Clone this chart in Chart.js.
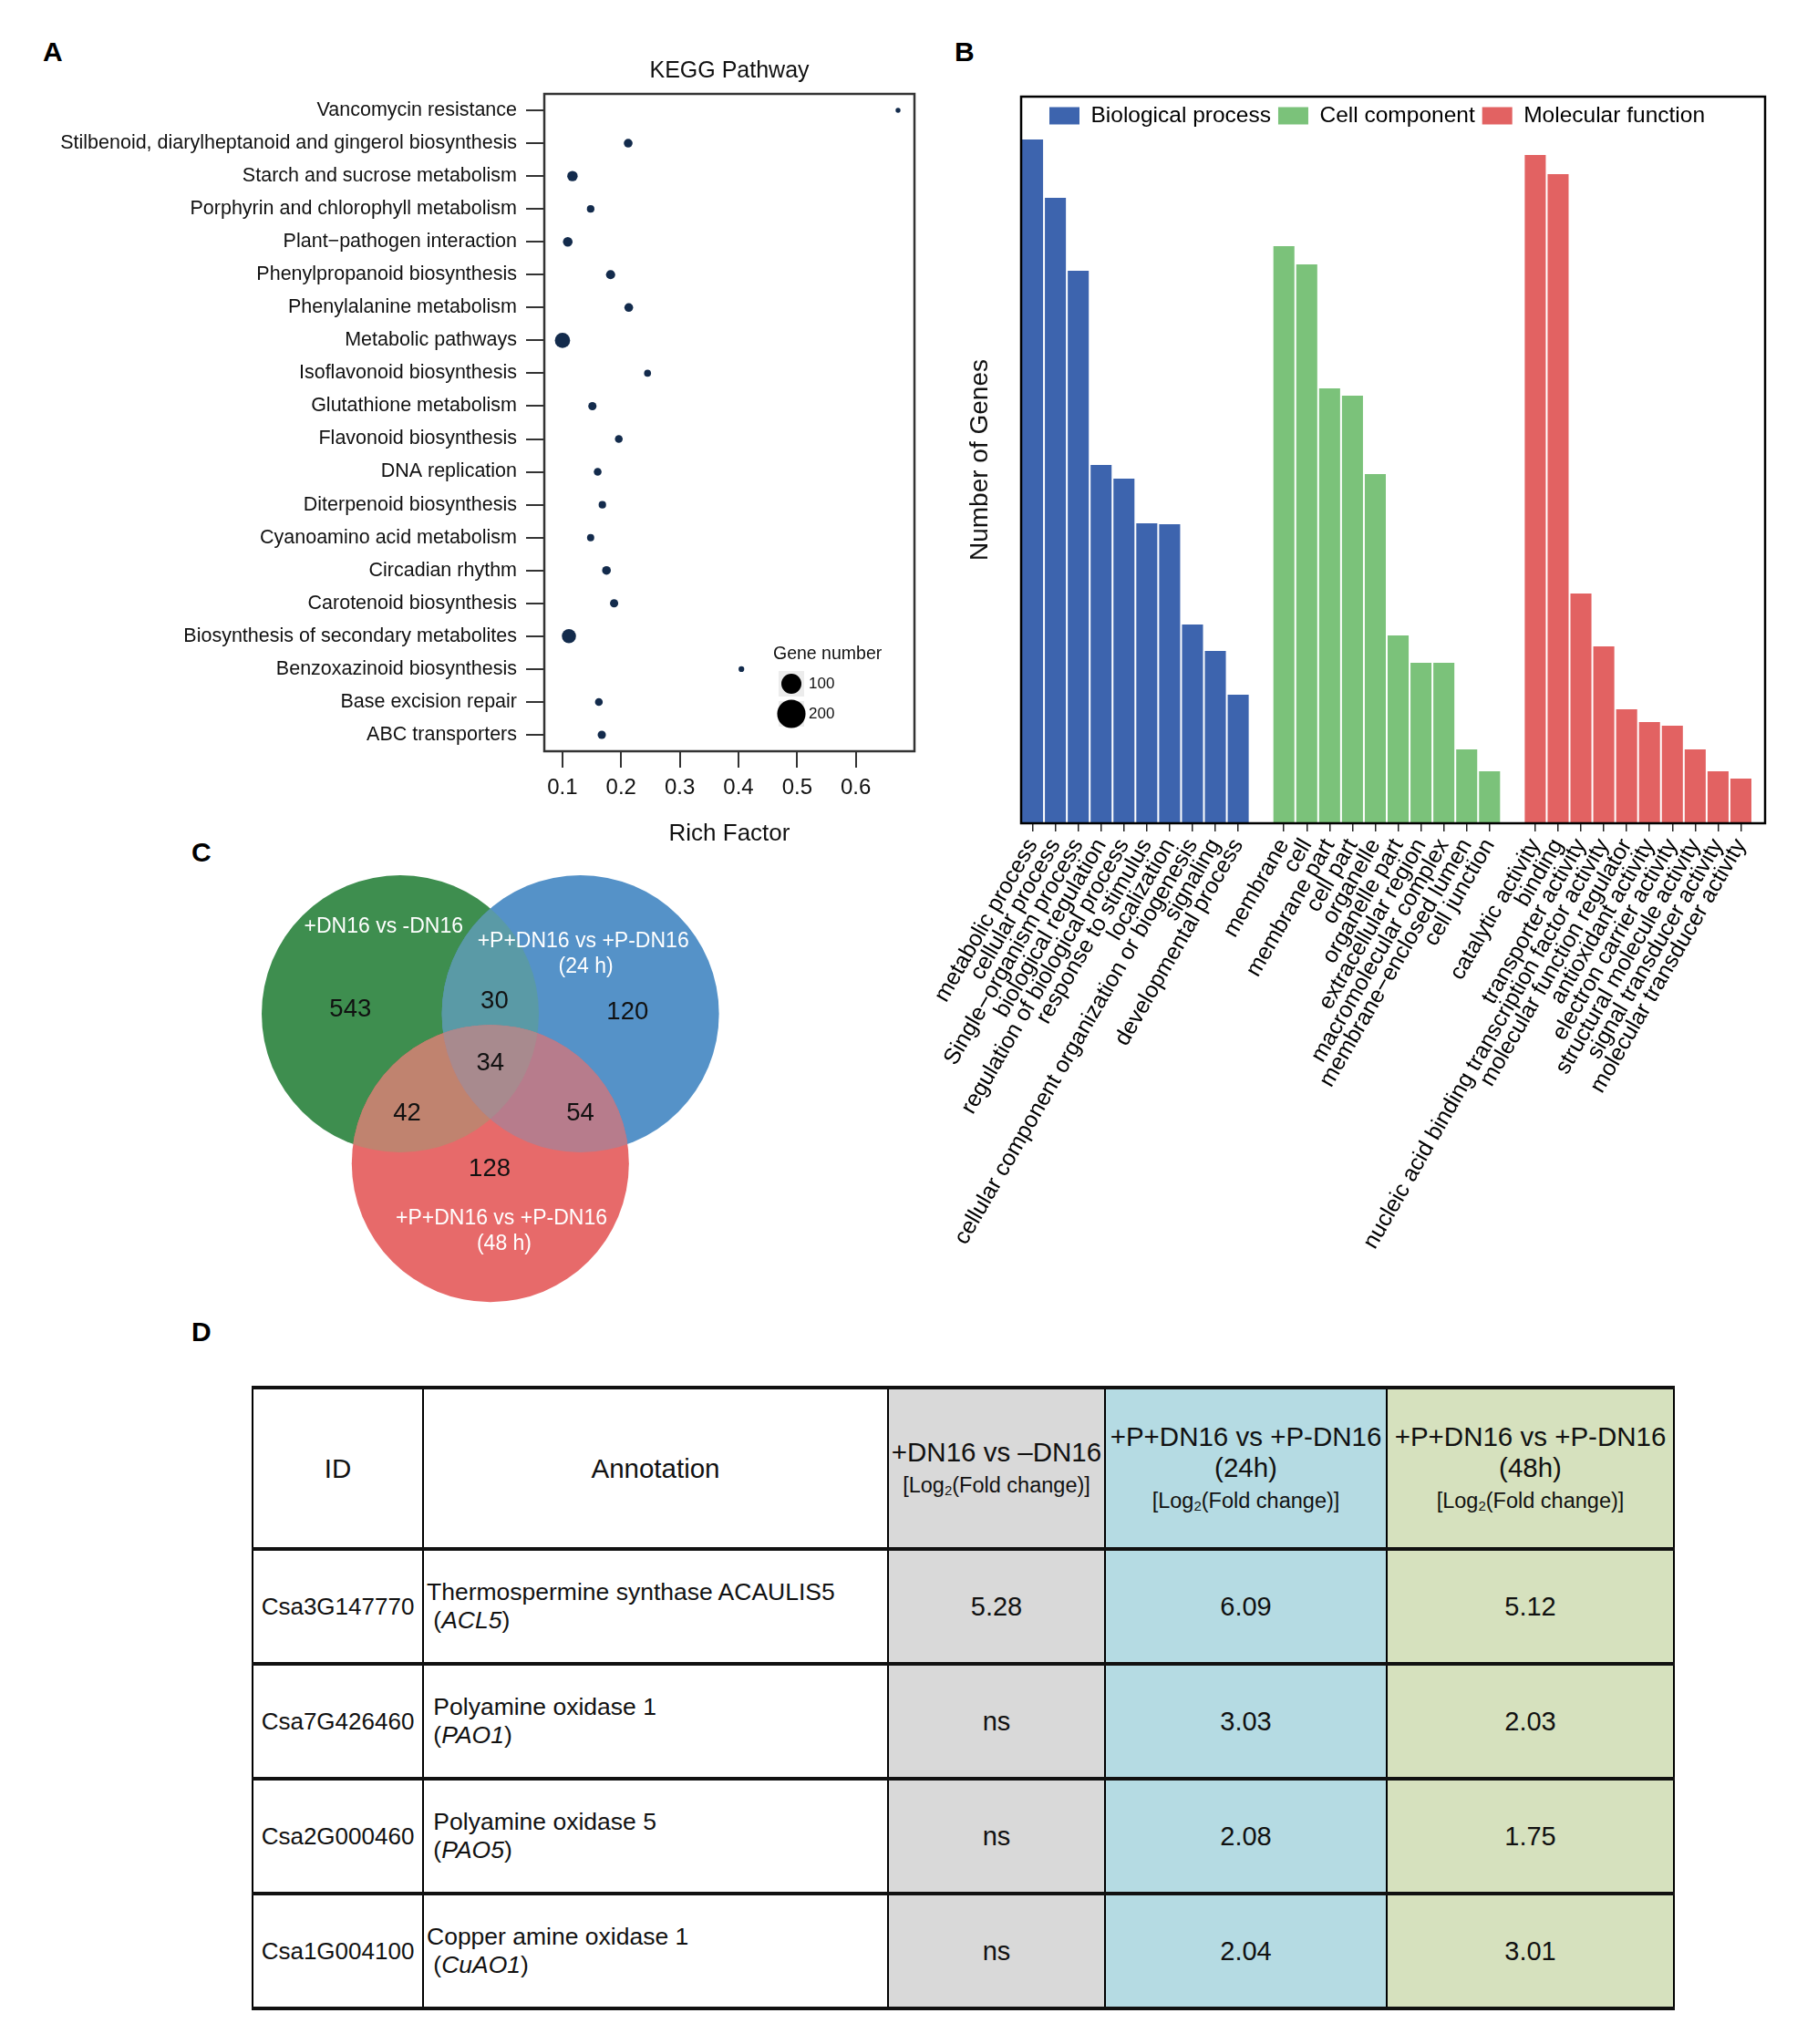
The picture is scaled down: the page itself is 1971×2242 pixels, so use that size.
<!DOCTYPE html>
<html>
<head>
<meta charset="utf-8">
<script src="https://cdn.jsdelivr.net/npm/chart.js@4.4.1/dist/chart.umd.min.js"></script>
<style>
  html, body { margin: 0; padding: 0; background: #fff; }
  #page { position: relative; width: 1971px; height: 2242px; overflow: hidden;
          font-family: "Liberation Sans", Arial, Helvetica, sans-serif; color: #111; }
  .plab { position: absolute; font-weight: bold; font-size: 30px; line-height: 30px; color: #000; }
  .box { position: absolute; }
  .box canvas { display: block; }
  #deg { position: absolute; left: 276px; top: 1520px; width: 1559px; border-collapse: collapse;
         table-layout: fixed; }
  #deg td { border-left: 2.5px solid #000; border-right: 2.5px solid #000;
            border-top: 4px solid #111; border-bottom: 4px solid #111;
            padding: 0; text-align: center; vertical-align: middle; }
  #deg tr.head td { height: 173px; font-size: 29.5px; line-height: 34px; }
  #deg tr.row td { height: 122px; font-size: 29px; }
  #deg tr.row td.id { font-size: 26px; }
  #deg tr.head td.id { font-size: 29.5px; }
  #deg tr.row td.ann { text-align: left; padding-left: 3px; font-size: 26.5px; line-height: 31px; white-space: pre; }
  #deg tr.head td.ann { text-align: center; font-size: 29.5px; }
  #deg .small { font-size: 23.5px; line-height: 31px; }
  #deg .c3 { background: #d9d9d9; }
  #deg .c4 { background: #b5dbe3; }
  #deg .c5 { background: #d6e1be; }
  #deg sub { font-size: 15px; vertical-align: -3px; line-height: 0; }
</style>
</head>
<body>
<div id="page">
  <div class="plab" style="left:47px;top:42px">A</div>
  <div class="plab" style="left:1047px;top:42px">B</div>
  <div class="plab" style="left:210px;top:920px">C</div>
  <div class="plab" style="left:210px;top:1446px">D</div>

  <div class="box" style="left:0;top:0"><canvas id="kegg" width="1020" height="940"></canvas></div>
  <div class="box" style="left:1000px;top:0"><canvas id="go" width="971" height="1480"></canvas></div>
  <div class="box" style="left:180px;top:920px"><canvas id="venn" width="660" height="540"></canvas></div>

  <table id="deg">
    <colgroup>
      <col style="width:187px"><col style="width:510px"><col style="width:238px"><col style="width:309px"><col style="width:315px">
    </colgroup>
    <tbody id="degBody"></tbody>
  </table>
</div>

<script>
// ---- A: KEGG enrichment ----
const keggPathways = [
  "Vancomycin resistance",
  "Stilbenoid, diarylheptanoid and gingerol biosynthesis",
  "Starch and sucrose metabolism",
  "Porphyrin and chlorophyll metabolism",
  "Plant\u2212pathogen interaction",
  "Phenylpropanoid biosynthesis",
  "Phenylalanine metabolism",
  "Metabolic pathways",
  "Isoflavonoid biosynthesis",
  "Glutathione metabolism",
  "Flavonoid biosynthesis",
  "DNA replication",
  "Diterpenoid biosynthesis",
  "Cyanoamino acid metabolism",
  "Circadian rhythm",
  "Carotenoid biosynthesis",
  "Biosynthesis of secondary metabolites",
  "Benzoxazinoid biosynthesis",
  "Base excision repair",
  "ABC transporters",
];
const richFactor = [0.672, 0.212, 0.117, 0.148, 0.109, 0.182, 0.213, 0.100, 0.245, 0.151,
                    0.196, 0.160, 0.168, 0.148, 0.175, 0.188, 0.111, 0.405, 0.162, 0.167];
const geneNumber = [6, 19, 27, 14, 23, 21, 19, 58, 12, 17,
                    15, 15, 14, 13, 19, 17, 50, 8, 15, 17];
const richTicks = [0.1, 0.2, 0.3, 0.4, 0.5, 0.6];
const geneLegend = [100, 200];

// ---- B: GO classification ----
const bpLabels = ["metabolic process", "cellular process", "Single\u2212organism process", "biological regulation",
  "regulation of biological process", "response to stimulus", "localization",
  "cellular component organization or biogenesis", "signaling", "developmental process"];
const bpValues = [750, 686, 606, 393, 378, 329, 328, 218, 189, 141];
const ccLabels = ["membrane", "cell", "membrane part", "cell part", "organelle", "organelle part",
  "extracellular region", "macromolecular complex", "membrane\u2212enclosed lumen", "cell junction"];
const ccValues = [633, 613, 477, 469, 383, 206, 176, 176, 81, 57];
const mfLabels = ["catalytic activity", "binding", "transporter activity",
  "nucleic acid binding transcription factor activity", "molecular function regulator",
  "antioxidant activity", "electron carrier activity", "structural molecule activity",
  "signal transducer activity", "molecular transducer activity"];
const mfValues = [733, 712, 252, 194, 125, 111, 107, 81, 57, 49];

// ---- C: Venn ----
const vennSets = ["+DN16 vs -DN16", "+P+DN16 vs +P-DN16", "+P+DN16 vs +P-DN16"];
const vennSetNotes = ["", "(24 h)", "(48 h)"];
const vennRegions = ["A", "B", "C", "AB", "AC", "BC", "ABC"];
const vennCounts = [543, 120, 128, 30, 42, 54, 34];

// ---- D: table ----
const geneIds = ["Csa3G147770", "Csa7G426460", "Csa2G000460", "Csa1G004100"];
const geneNames = ["Thermospermine synthase ACAULIS5", " Polyamine oxidase 1", " Polyamine oxidase 5", "Copper amine oxidase 1"];
const geneSymbols = ["ACL5", "PAO1", "PAO5", "CuAO1"];
const fcDN16 = ["5.28", "ns", "ns", "ns"];
const fc24h = ["6.09", "3.03", "2.08", "2.04"];
const fc48h = ["5.12", "2.03", "1.75", "3.01"];

const FONT = '"Liberation Sans", Arial, Helvetica, sans-serif';
Chart.defaults.font.family = FONT;
Chart.defaults.color = '#111';
Chart.defaults.animation = false;
Chart.defaults.plugins.legend.display = false;
Chart.defaults.plugins.tooltip.enabled = false;

const sizeOf = n => 1.1 * Math.sqrt(n);

const keggExtras = {
  id: 'keggExtras',
  afterDraw(chart) {
    const { ctx, chartArea: a } = chart;
    ctx.save();
    ctx.strokeStyle = '#333';
    ctx.lineWidth = 2.5;
    ctx.strokeRect(a.left, a.top, a.right - a.left, a.bottom - a.top);

    ctx.font = '19.5px ' + FONT;
    ctx.textBaseline = 'middle';
    ctx.textAlign = 'left';
    ctx.fillStyle = '#111';
    ctx.fillText('Gene number', a.right - 155, a.bottom - 106);
    geneLegend.forEach((n, i) => {
      const cx = a.right - 135, cy = a.bottom - 74 + i * 33;
      ctx.fillStyle = '#ececec';
      ctx.fillRect(cx - 14, cy - 14, 28, 28);
      ctx.fillStyle = '#000';
      ctx.beginPath();
      ctx.arc(cx, cy, sizeOf(n), 0, Math.PI * 2);
      ctx.fill();
      ctx.fillStyle = '#111';
      ctx.font = '17px ' + FONT;
      ctx.fillText(String(n), a.right - 116, cy);
    });
    ctx.restore();
  }
};

new Chart(document.getElementById('kegg'), {
  type: 'bubble',
  data: {
    labels: keggPathways,
    datasets: [{
      data: keggPathways.map((p, i) => ({ x: richFactor[i], y: p, r: sizeOf(geneNumber[i]) })),
      backgroundColor: '#132b4c',
      borderWidth: 0,
    }],
  },
  options: {
    responsive: false,
    devicePixelRatio: 1,
    layout: { padding: { top: 63, right: 17, left: 0, bottom: 0 } },
    plugins: {
      title: {
        display: true, text: 'KEGG Pathway', fullSize: false, color: '#111',
        font: { size: 25, weight: 'normal' }, padding: { top: 0, bottom: 10 },
      },
    },
    scales: {
      x: {
        type: 'linear', min: 0.069, max: 0.70,
        afterBuildTicks: s => { s.ticks = richTicks.map(v => ({ value: v })); },
        afterFit: s => { s.height = 116; },
        ticks: { font: { size: 24 }, color: '#111', padding: 8, callback: v => Number(v).toFixed(1) },
        grid: { drawOnChartArea: false, tickLength: 18, color: '#333', lineWidth: 2 },
        border: { display: false },
        title: { display: true, text: 'Rich Factor', color: '#111', font: { size: 26 }, padding: { top: 0, bottom: 10 } },
      },
      y: {
        type: 'category', labels: keggPathways, offset: true,
        afterFit: s => { s.width = 597; },
        ticks: { font: { size: 21.5 }, color: '#111', padding: 10, autoSkip: false },
        grid: { drawOnChartArea: false, offset: false, tickLength: 20, color: '#333', lineWidth: 2 },
        border: { display: false },
      },
    },
  },
  plugins: [keggExtras],
});

// ---- B chart ----
const goColors = ['#3d64ae', '#7bc27a', '#e26262'];
const goLabels = [...bpLabels, '', ...ccLabels, '', ...mfLabels];
const padNull = (vals, before, after) => [...Array(before).fill(null), ...vals, ...Array(after).fill(null)];
const nBp = bpLabels.length, nCc = ccLabels.length, nMf = mfLabels.length;

const goExtras = {
  id: 'goExtras',
  afterDraw(chart) {
    const { ctx, chartArea: a } = chart;
    ctx.save();
    ctx.strokeStyle = '#000';
    ctx.lineWidth = 2.5;
    ctx.strokeRect(a.left, a.top, a.right - a.left + 14, a.bottom - a.top);

    ctx.font = '24.5px ' + FONT;
    ctx.textBaseline = 'middle';
    ctx.textAlign = 'left';
    let x = a.left + 31;
    const y = a.top + 21;
    chart.data.datasets.forEach(ds => {
      ctx.fillStyle = ds.backgroundColor;
      ctx.fillRect(x, y - 9.5, 33, 19);
      x += 33 + 12.5;
      ctx.fillStyle = '#000';
      ctx.fillText(ds.label, x, y);
      x += ctx.measureText(ds.label).width + 8;
    });
    ctx.restore();
  }
};

new Chart(document.getElementById('go'), {
  type: 'bar',
  data: {
    labels: goLabels,
    datasets: [
      { label: 'Biological process', data: padNull(bpValues, 0, nCc + nMf + 2), backgroundColor: goColors[0] },
      { label: 'Cell component', data: padNull(ccValues, nBp + 1, nMf + 1), backgroundColor: goColors[1] },
      { label: 'Molecular function', data: padNull(mfValues, nBp + nCc + 2, 0), backgroundColor: goColors[2] },
    ].map(d => Object.assign(d, { grouped: false, barPercentage: 0.92, categoryPercentage: 1, borderWidth: 0 })),
  },
  options: {
    responsive: false,
    devicePixelRatio: 1,
    layout: { padding: { top: 106, right: 49, left: 0, bottom: 0 } },
    scales: {
      x: {
        afterFit: s => { s.height = 577; },
        ticks: { font: { size: 25 }, color: '#000', minRotation: 60, maxRotation: 60, autoSkip: false, padding: 3 },
        grid: {
          drawOnChartArea: false, offset: false, tickLength: 9, lineWidth: 1.5,
          color: c => (c.tick && c.tick.label === '' ? 'rgba(0,0,0,0)' : '#222'),
        },
        border: { display: false },
      },
      y: {
        min: 0, max: 797,
        afterFit: s => { s.width = 120; },
        ticks: { display: false },
        grid: { display: false },
        border: { display: false },
        title: { display: true, text: 'Number of Genes', color: '#111', font: { size: 28 }, padding: { top: 58, bottom: 0 } },
      },
    },
  },
  plugins: [goExtras],
});

// ---- C: Venn ----
const vennCircles = [{ x: 0, y: 0 }, { x: 1.3, y: 0 }, { x: 0.65, y: -1.08 }];
const vennColors = { A: '#3e8e4f', B: '#5592c8', C: '#e76a6a', AB: '#5a9aa6', AC: '#c0836f', BC: '#b77c8c', ABC: '#a88a8e' };
const vennCountAt = { A: [-0.36, 0.03], B: [1.64, 0.01], C: [0.645, -1.12], AB: [0.68, 0.09],
                      AC: [0.05, -0.72], BC: [1.30, -0.72], ABC: [0.65, -0.36] };
const vennNameAt = [[-0.12, 0.63], [1.32, 0.52], [0.73, -1.48]];

const vennDraw = {
  id: 'vennDraw',
  beforeDatasetsDraw(chart) {
    const { ctx, scales: { x, y } } = chart;
    const rpx = x.getPixelForValue(1) - x.getPixelForValue(0);
    const path = c => { ctx.beginPath(); ctx.arc(x.getPixelForValue(c.x), y.getPixelForValue(c.y), rpx, 0, Math.PI * 2); };
    ctx.save();
    ['A', 'B', 'C'].forEach((k, i) => { path(vennCircles[i]); ctx.fillStyle = vennColors[k]; ctx.fill(); });
    [['AB', 0, 1], ['AC', 0, 2], ['BC', 1, 2]].forEach(([k, i, j]) => {
      ctx.save(); path(vennCircles[i]); ctx.clip(); path(vennCircles[j]); ctx.fillStyle = vennColors[k]; ctx.fill(); ctx.restore();
    });
    ctx.save(); path(vennCircles[0]); ctx.clip(); path(vennCircles[1]); ctx.clip();
    path(vennCircles[2]); ctx.fillStyle = vennColors.ABC; ctx.fill(); ctx.restore();

    ctx.textAlign = 'center';
    ctx.textBaseline = 'middle';
    ctx.fillStyle = '#111';
    ctx.font = '27.5px ' + FONT;
    const meta = chart.getDatasetMeta(0);
    meta.data.forEach((pt, i) => ctx.fillText(String(vennCounts[i]), pt.x, pt.y));

    ctx.fillStyle = '#fff';
    ctx.font = '23px ' + FONT;
    vennSets.forEach((s, i) => {
      const px = x.getPixelForValue(vennNameAt[i][0]), py = y.getPixelForValue(vennNameAt[i][1]);
      ctx.fillText(s, px, py);
      if (vennSetNotes[i]) ctx.fillText(vennSetNotes[i], px + 3, py + 28);
    });
    ctx.restore();
  }
};

new Chart(document.getElementById('venn'), {
  type: 'scatter',
  data: {
    datasets: [{
      data: vennRegions.map(k => ({ x: vennCountAt[k][0], y: vennCountAt[k][1] })),
      pointRadius: 0,
    }],
  },
  options: {
    responsive: false,
    devicePixelRatio: 1,
    layout: { padding: 0 },
    scales: {
      x: { type: 'linear', min: -1.704, max: 2.638, display: false },
      y: { type: 'linear', min: -2.289, max: 1.263, display: false },
    },
  },
  plugins: [vennDraw],
});

// ---- D: table ----
const body = document.getElementById('degBody');
const log2 = '[Log<sub>2</sub>(Fold change)]';
body.innerHTML =
  '<tr class="head">' +
  '<td class="id">ID</td>' +
  '<td class="ann">Annotation</td>' +
  '<td class="c3">+DN16 vs \u2013DN16<br><span class="small">' + log2 + '</span></td>' +
  '<td class="c4">+P+DN16 vs +P-DN16<br>(24h)<br><span class="small">' + log2 + '</span></td>' +
  '<td class="c5">+P+DN16 vs +P-DN16<br>(48h)<br><span class="small">' + log2 + '</span></td>' +
  '</tr>' +
  geneIds.map((id, i) =>
    '<tr class="row">' +
    '<td class="id">' + id + '</td>' +
    '<td class="ann">' + geneNames[i] + '\n (<i>' + geneSymbols[i] + '</i>)</td>' +
    '<td class="c3">' + fcDN16[i] + '</td>' +
    '<td class="c4">' + fc24h[i] + '</td>' +
    '<td class="c5">' + fc48h[i] + '</td>' +
    '</tr>').join('');
</script>
</body>
</html>
